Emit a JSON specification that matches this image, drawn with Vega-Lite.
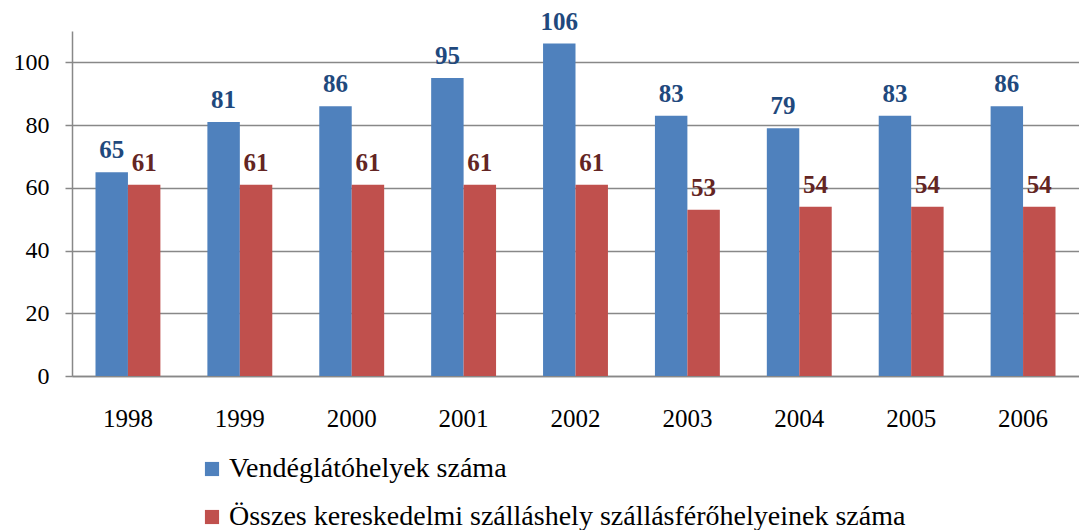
{
  "$schema": "https://vega.github.io/schema/vega-lite/v6.json",
  "width": 1007,
  "height": 345,
  "autosize": "none",
  "padding": {"left": 72, "top": 31, "right": 0, "bottom": 154},
  "background": "white",
  "config": {
    "font": "Liberation Serif",
    "axis": {"labelFont": "Liberation Serif"},
    "legend": {"labelFont": "Liberation Serif"},
    "text": {"font": "Liberation Serif"},
    "view": {"stroke": null}
  },
  "data": {
    "values": [
      {"ev": "1998", "sorozat": "Vendéglátóhelyek száma", "ertek": 65},
      {"ev": "1998", "sorozat": "Összes kereskedelmi szálláshely szállásférőhelyeinek száma", "ertek": 61},
      {"ev": "1999", "sorozat": "Vendéglátóhelyek száma", "ertek": 81},
      {"ev": "1999", "sorozat": "Összes kereskedelmi szálláshely szállásférőhelyeinek száma", "ertek": 61},
      {"ev": "2000", "sorozat": "Vendéglátóhelyek száma", "ertek": 86},
      {"ev": "2000", "sorozat": "Összes kereskedelmi szálláshely szállásférőhelyeinek száma", "ertek": 61},
      {"ev": "2001", "sorozat": "Vendéglátóhelyek száma", "ertek": 95},
      {"ev": "2001", "sorozat": "Összes kereskedelmi szálláshely szállásférőhelyeinek száma", "ertek": 61},
      {"ev": "2002", "sorozat": "Vendéglátóhelyek száma", "ertek": 106},
      {"ev": "2002", "sorozat": "Összes kereskedelmi szálláshely szállásférőhelyeinek száma", "ertek": 61},
      {"ev": "2003", "sorozat": "Vendéglátóhelyek száma", "ertek": 83},
      {"ev": "2003", "sorozat": "Összes kereskedelmi szálláshely szállásférőhelyeinek száma", "ertek": 53},
      {"ev": "2004", "sorozat": "Vendéglátóhelyek száma", "ertek": 79},
      {"ev": "2004", "sorozat": "Összes kereskedelmi szálláshely szállásférőhelyeinek száma", "ertek": 54},
      {"ev": "2005", "sorozat": "Vendéglátóhelyek száma", "ertek": 83},
      {"ev": "2005", "sorozat": "Összes kereskedelmi szálláshely szállásférőhelyeinek száma", "ertek": 54},
      {"ev": "2006", "sorozat": "Vendéglátóhelyek száma", "ertek": 86},
      {"ev": "2006", "sorozat": "Összes kereskedelmi szálláshely szállásférőhelyeinek száma", "ertek": 54}
    ]
  },
  "encoding": {
    "x": {
      "field": "ev", "type": "nominal",
      "scale": {"paddingInner": 0.42, "paddingOuter": 0.21},
      "axis": {
        "title": null, "labelAngle": 0, "ticks": false,
        "labelFont": "Liberation Serif",
        "labelFontSize": 25, "labelColor": "#000000", "labelPadding": 30,
        "domainColor": "#888888", "domainWidth": 1.5
      }
    },
    "xOffset": {
      "field": "sorozat", "type": "nominal",
      "sort": ["Vendéglátóhelyek száma", "Összes kereskedelmi szálláshely szállásférőhelyeinek száma"],
      "scale": {"paddingInner": 0, "paddingOuter": 0}
    },
    "y": {
      "field": "ertek", "type": "quantitative",
      "scale": {"domain": [0, 110], "nice": false},
      "axis": {
        "title": null, "values": [0, 20, 40, 60, 80, 100],
        "labelFont": "Liberation Serif",
        "labelFontSize": 24, "labelColor": "#000000", "labelPadding": 16,
        "tickSize": 7, "tickColor": "#888888", "tickWidth": 1.5,
        "domainColor": "#888888", "domainWidth": 1.5,
        "grid": true, "gridColor": "#888888", "gridWidth": 1.5
      }
    }
  },
  "layer": [
    {
      "mark": {"type": "bar"},
      "encoding": {
        "color": {
          "field": "sorozat", "type": "nominal",
          "sort": ["Vendéglátóhelyek száma", "Összes kereskedelmi szálláshely szállásférőhelyeinek száma"],
          "scale": {"range": ["#4F81BD", "#C0504D"]},
          "legend": {
            "title": null, "orient": "none", "legendX": 126, "legendY": 424,
            "direction": "vertical", "symbolType": "square", "symbolSize": 200,
            "symbolStrokeWidth": 0, "labelFont": "Liberation Serif", "labelFontSize": 28, "labelColor": "#000000",
            "labelLimit": 1000, "rowPadding": 20, "labelOffset": 3
          }
        }
      }
    },
    {
      "mark": {"type": "text", "font": "Liberation Serif", "fontWeight": "bold", "fontSize": 25, "baseline": "alphabetic", "dy": -14},
      "encoding": {
        "text": {"field": "ertek", "type": "quantitative"},
        "fill": {
          "field": "sorozat", "type": "nominal",
          "sort": ["Vendéglátóhelyek száma", "Összes kereskedelmi szálláshely szállásférőhelyeinek száma"],
          "scale": {"range": ["#1F497D", "#632523"]},
          "legend": null
        }
      }
    }
  ]
}
